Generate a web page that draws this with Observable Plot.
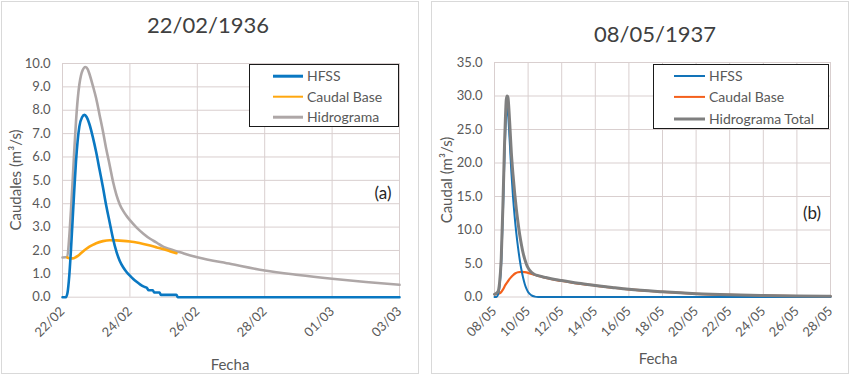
<!DOCTYPE html>
<html><head><meta charset="utf-8">
<script src="https://cdn.jsdelivr.net/npm/d3@7"></script>
<script src="https://cdn.jsdelivr.net/npm/@observablehq/plot@0.6"></script>
<style>
body{margin:0;background:#fff;font-family:Lato,"Open Sans",sans-serif;}
#page{position:relative;width:850px;height:375px;overflow:hidden;background:#fff;}
.panel{position:absolute;border:1px solid #d9d9d9;box-sizing:border-box;}
.abs{position:absolute;white-space:nowrap;line-height:1;}
.title{font-size:22px;color:#404040;transform:translate(-50%,-50%);}
.ylab{font-size:15px;color:#595959;transform:translate(-50%,-50%) rotate(-90deg);}
.xlab{font-size:15px;color:#595959;transform:translate(-50%,-50%);}
.tag{font-size:17px;color:#262626;transform:translate(-50%,-50%);}
.legend{position:absolute;border:1px solid #1a1a1a;background:#fff;box-sizing:border-box;}
.lrow{position:absolute;left:0;font-size:14px;color:#595959;white-space:nowrap;line-height:1;transform:translateY(-50%);}
.sw{position:absolute;top:50%;}
.chart{position:absolute;top:0;}
</style>
</head><body>
<div id="page"></div>
<script>
// ---------- Panel (a): 22/02/1936 ----------
const titleA = "22/02/1936";
const startA = "1936-02-22", endA = "1936-03-03";
const xTicksA = ["1936-02-22","1936-02-24","1936-02-26","1936-02-28","1936-03-01","1936-03-03"];
const yTicksA = [0,1,2,3,4,5,6,7,8,9,10];
const namesA = ["HFSS","Caudal Base","Hidrograma"];
const colorsA = ["#0a78c2","#ffa70f","#aea7a7"];

const daysA_hfss = [0,0.1,0.15,0.2,0.25,0.3,0.35,0.4,0.45,0.5,0.58,0.65,0.72,0.8,0.9,1.0,1.1,1.2,1.3,1.4,1.5,1.6,1.7,1.8,1.9,2.0,2.1,2.2,2.3,2.4,2.5,2.56,2.68,2.72,2.88,2.92,3.38,3.42,10];
const valsA_hfss = [0,0,0.2,0.9,2.0,3.3,4.6,5.8,6.7,7.3,7.7,7.8,7.7,7.4,6.85,6.2,5.45,4.7,3.9,3.2,2.5,1.95,1.55,1.28,1.08,0.92,0.78,0.66,0.55,0.46,0.4,0.3,0.3,0.2,0.2,0.1,0.1,0,0];

const daysA_base = [0.14,0.2,0.3,0.4,0.5,0.6,0.7,0.8,0.9,1.0,1.2,1.4,1.6,1.8,2.0,2.2,2.4,2.6,2.8,3.0,3.2,3.38];
const valsA_base = [1.7,1.67,1.66,1.72,1.82,1.95,2.06,2.16,2.24,2.31,2.4,2.44,2.43,2.41,2.38,2.34,2.28,2.21,2.13,2.05,1.96,1.88];

const daysA_hid = [0,0.14,0.2,0.25,0.3,0.35,0.4,0.45,0.5,0.55,0.6,0.68,0.75,0.8,0.9,1.0,1.1,1.2,1.3,1.4,1.5,1.6,1.7,1.8,1.9,2.0,2.2,2.4,2.6,2.8,3.0,3.2,3.38,3.6,4.0,5.0,6.0,7.0,8.0,9.0,10.0];
const valsA_hid = [1.7,1.72,2.57,3.7,4.96,6.3,7.5,8.45,9.1,9.5,9.72,9.85,9.75,9.55,9.05,8.5,7.8,7.1,6.33,5.65,4.94,4.38,3.97,3.69,3.48,3.3,2.98,2.72,2.5,2.33,2.15,2.05,1.97,1.87,1.71,1.42,1.14,0.95,0.79,0.65,0.53];

// ---------- Panel (b): 08/05/1937 ----------
const titleB = "08/05/1937";
const startB = "1937-05-08", endB = "1937-05-28";
const xTicksB = ["1937-05-08","1937-05-10","1937-05-12","1937-05-14","1937-05-16","1937-05-18","1937-05-20","1937-05-22","1937-05-24","1937-05-26","1937-05-28"];
const yTicksB = [0,5,10,15,20,25,30,35];
const namesB = ["HFSS","Caudal Base","Hidrograma Total"];
const colorsB = ["#1273b8","#f4601c","#7f7f7f"];

const daysB_hfss = [0,0.12,0.2,0.3,0.4,0.5,0.55,0.6,0.65,0.7,0.75,0.8,0.9,1.0,1.1,1.2,1.3,1.4,1.5,1.6,1.7,1.8,1.9,2.0,2.2,2.4,2.6,20];
const valsB_hfss = [0,0,0.3,1.5,5.0,12.5,17,21.5,25,27.4,28.2,27.5,23.5,18.8,15,12,9.5,7.4,5.6,4.1,2.9,1.95,1.25,0.75,0.25,0.06,0,0];

const daysB_base = [0,0.2,0.35,0.5,0.65,0.8,0.95,1.1,1.25,1.4,1.6,1.8,2.0,2.3,2.6,3.0,3.6,4.0,4.6,5.0,6.0,7.0,8.0,9.0,10,12,14,16,18,20];
const valsB_base = [0.4,0.45,0.6,1.1,1.8,2.35,2.85,3.25,3.55,3.7,3.75,3.7,3.6,3.38,3.15,2.9,2.55,2.4,2.15,2.0,1.7,1.4,1.13,0.93,0.76,0.48,0.32,0.21,0.14,0.09];

const daysB_hid = [0,0.2,0.3,0.4,0.5,0.55,0.6,0.65,0.7,0.75,0.8,0.9,1.0,1.1,1.2,1.3,1.4,1.5,1.6,1.7,1.8,1.9,2.0,2.2,2.4,2.6,3.0,3.6,4.0,5.0,6.0,7.0,8.0,10,12,14,16,18,20];
const valsB_hid = [0.4,0.75,2.05,5.7,13.6,18.3,23.0,26.7,29.4,30.0,29.8,26.2,21.6,18.3,15.5,13.1,11.1,9.3,7.85,6.6,5.65,4.9,4.35,3.67,3.36,3.18,2.93,2.6,2.45,2.05,1.73,1.43,1.15,0.78,0.5,0.33,0.23,0.16,0.11];

// ---------- helpers ----------
const DAY = 864e5;
const utc = s => new Date(s + "T00:00:00Z");
function rows(start, days, vals) {
  const t0 = utc(start).getTime();
  return days.map((d, i) => ({t: new Date(t0 + d * DAY), v: vals[i]}));
}
const fmtDay = d3.utcFormat("%d/%m");

function chart(o) {
  return Plot.plot({
    width: 425, height: 375,
    marginLeft: o.ml, marginRight: o.mr, marginTop: o.mt, marginBottom: o.mb,
    style: {fontFamily: "Lato, 'Open Sans', sans-serif", fontSize: "13px", color: "#595959", background: "transparent", overflow: "visible"},
    x: {type: "utc", domain: [utc(o.start), utc(o.end)], ticks: o.xTicks.map(utc), tickFormat: fmtDay, tickRotate: -45, tickSize: 0, tickPadding: 12, label: null},
    y: {domain: [0, o.yTicks[o.yTicks.length - 1]], ticks: o.yTicks, tickFormat: d3.format(".1f"), tickSize: 0, tickPadding: 12, label: null},
    marks: [
      Plot.gridX(o.xTicks.map(utc), {stroke: "#d9cfcf", strokeOpacity: 1, strokeWidth: 1}),
      Plot.gridY(o.yTicks, {stroke: "#d9cfcf", strokeOpacity: 1, strokeWidth: 1}),
      ...o.series.map(s => Plot.line(s.data, {x: "t", y: "v", stroke: s.color, strokeWidth: s.w, curve: "monotone-x"}))
    ]
  });
}

const page = document.getElementById("page");
function el(cls, txt, css) {
  const d = document.createElement("div");
  d.className = cls; if (txt != null) d.textContent = txt;
  Object.assign(d.style, css); page.appendChild(d); return d;
}
function legend(box, names, colors, widths, swL, swW, txtL, rowsY) {
  const L = el("legend", null, {left: box[0] + "px", top: box[1] + "px", width: box[2] + "px", height: box[3] + "px"});
  names.forEach((n, i) => {
    const r = document.createElement("div");
    r.className = "lrow"; r.style.top = (rowsY[i] - box[1]) + "px"; r.style.width = "100%";
    const sw = document.createElement("div");
    sw.className = "sw";
    Object.assign(sw.style, {left: (swL - box[0]) + "px", width: swW + "px", height: widths[i] + "px", background: colors[i], transform: "translateY(-50%)"});
    const t = document.createElement("span");
    t.textContent = n; t.style.position = "relative"; t.style.left = (txtL - box[0]) + "px";
    r.appendChild(sw); r.appendChild(t); L.appendChild(r);
  });
}

// panel frames
el("panel", null, {left: "1px", top: "1px", width: "418px", height: "373px"});
el("panel", null, {left: "431px", top: "1px", width: "418px", height: "373px"});

// charts
const cA = chart({
  ml: 62, mr: 26, mt: 63, mb: 78.3, start: startA, end: endA, xTicks: xTicksA, yTicks: yTicksA,
  series: [
    {data: rows(startA, daysA_hid, valsA_hid), color: colorsA[2], w: 2.6},
    {data: rows(startA, daysA_base, valsA_base), color: colorsA[1], w: 2.6},
    {data: rows(startA, daysA_hfss, valsA_hfss), color: colorsA[0], w: 2.6}
  ]
});
cA.classList.add("chart"); cA.style.left = "0px"; page.appendChild(cA);

const cB = chart({
  ml: 69, mr: 20, mt: 62, mb: 78.5, start: startB, end: endB, xTicks: xTicksB, yTicks: yTicksB,
  series: [
    {data: rows(startB, daysB_base, valsB_base), color: colorsB[1], w: 2.2},
    {data: rows(startB, daysB_hfss, valsB_hfss), color: colorsB[0], w: 2.0},
    {data: rows(startB, daysB_hid, valsB_hid), color: colorsB[2], w: 3.0}
  ]
});
cB.classList.add("chart"); cB.style.left = "425px"; page.appendChild(cB);

// texts
el("abs title", titleA, {left: "208px", top: "25px"});
el("abs title", titleB, {left: "655px", top: "34px"});
el("abs ylab", "Caudales (m³/s)", {left: "15px", top: "180px"});
el("abs ylab", "Caudal (m³/s)", {left: "446px", top: "180px"});
el("abs xlab", "Fecha", {left: "230px", top: "364px"});
el("abs xlab", "Fecha", {left: "658px", top: "358px"});
el("abs tag", "(a)", {left: "383px", top: "192px"});
el("abs tag", "(b)", {left: "812px", top: "212px"});

legend([249, 64, 150, 63], namesA, colorsA, [2.6, 2.6, 2.6], 272, 30, 306, [75, 95.5, 116]);
legend([653, 64, 176, 65], namesB, colorsB, [2.0, 2.2, 3.0], 673, 31, 708, [74.5, 96, 117.5]);
</script>
</body></html>
